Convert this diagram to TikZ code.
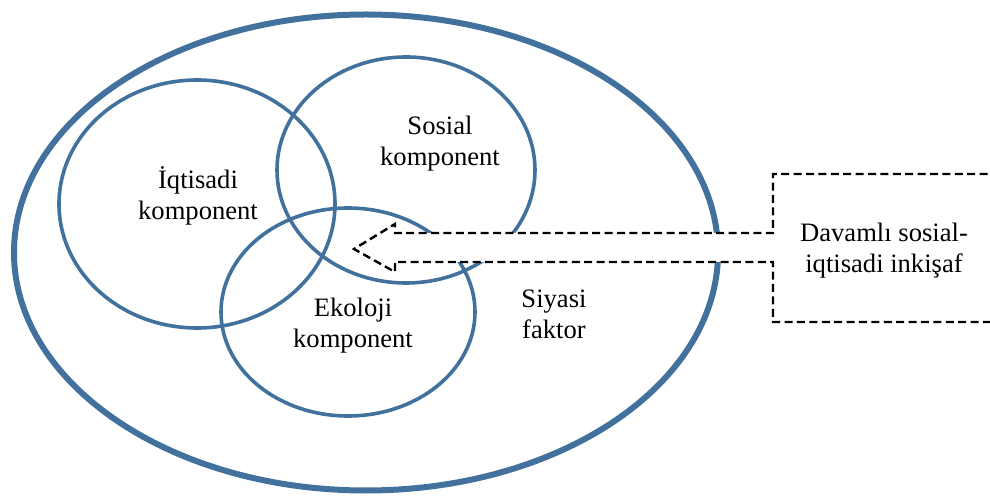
\documentclass[tikz,border=0pt]{standalone}
\usepackage{fontspec}
\setmainfont{Liberation Serif}
\definecolor{venn}{HTML}{41719C}
\begin{document}
\begin{tikzpicture}[x=0.5pt,y=-0.5pt,
  ring/.style={draw=venn,line width=1.8pt},
  outerring/.style={draw=venn,line width=3pt},
  lbl/.style={align=center,font=\fontsize{13.3pt}{15.5pt}\selectfont,inner sep=0pt},
  dashline/.style={draw=black,line width=1.2pt,dash pattern=on 4pt off 2.2pt}]
\useasboundingbox (0,0) rectangle (990,496);
\clip (0,0) rectangle (990,496);
% rings
\path[outerring] (366,252.5) ellipse [x radius=352,y radius=238];
\path[ring] (197,204) ellipse [x radius=138,y radius=124];
\path[ring] (406,170) ellipse [x radius=129,y radius=113];
\path[ring] (348,312) ellipse [x radius=127,y radius=104];
% arrow with box
\coordinate (boxtop) at (1000,174);
\coordinate (boxbot) at (1000,322);
\coordinate (tip) at (354,249);
\fill[white] (boxtop) -- (773,174) -- (773,233) -- (395,233) -- (395,224) -- (tip)
  -- (395,272) -- (395,262) -- (773,262) -- (773,322) -- (boxbot) -- cycle;
\draw[dashline] (boxtop) -- (773,174) -- (773,233) -- (395,233) -- (395,224) -- (tip)
  -- (395,272) -- (395,262) -- (773,262) -- (773,322) -- (boxbot);
% labels
\node[lbl] (iq) at (198,196) {İqtisadi\\komponent};
\node[lbl] (so) at (440,144) {Sosial\\komponent};
\node[lbl] (ek) at (353,326) {Ekoloji\\komponent};
\node[lbl] (si) at (554,314) {Siyasi\\faktor};
\node[lbl] (da) at (884,251) {Davamlı sosial-\\iqtisadi inkişaf};
\end{tikzpicture}
\end{document}
